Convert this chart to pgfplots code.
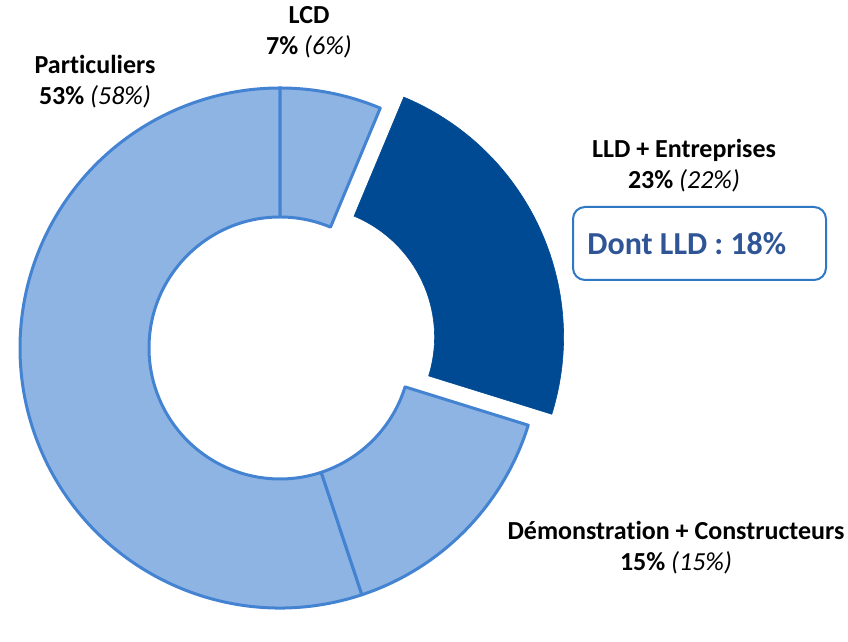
\documentclass[border=0pt]{standalone}
\usepackage{pgfplots}
\pgfplotsset{compat=1.18}
\usepackage{pgfplotstable}
\usepackage{fontspec}
\setmainfont{Carlito}[Ligatures={NoCommon}]
\definecolor{lightfill}{HTML}{8EB4E3}
\definecolor{edgeblue}{HTML}{4383D2}
\definecolor{darkfill}{HTML}{004A93}
\definecolor{boxedge}{HTML}{2E78C4}
\definecolor{boxtext}{HTML}{2F5597}

% share of the ring taken by each segment (percent, clockwise from the top)
\pgfplotstableread{
name  value
LCD   6.3
LLD   23.5
Demo  15.1
Part  55.1
}\sharetable

\newcommand{\Rout}{260}
\newcommand{\Rin}{131}
% #1 style, #2 start angle, #3 end angle, #4/#5 offset (explode)
\newcommand{\donutwedge}[5]{%
  \filldraw[#1]
    (axis cs:{#4+\Rin*cos(#2)},{#5+\Rin*sin(#2)})
    -- (axis cs:{#4+\Rout*cos(#2)},{#5+\Rout*sin(#2)})
    arc[start angle=#2, end angle=#3, radius=\Rout*0.5pt]
    -- (axis cs:{#4+\Rin*cos(#3)},{#5+\Rin*sin(#3)})
    arc[start angle=#3, end angle=#2, radius=\Rin*0.5pt]
    -- cycle;}

\begin{document}
\begin{tikzpicture}
\pgfplotstablegetelem{0}{value}\of\sharetable \let\vA\pgfplotsretval
\pgfplotstablegetelem{1}{value}\of\sharetable \let\vB\pgfplotsretval
\pgfplotstablegetelem{2}{value}\of\sharetable \let\vC\pgfplotsretval
\pgfplotstablegetelem{3}{value}\of\sharetable \let\vD\pgfplotsretval
\pgfmathsetmacro\aA{90}
\pgfmathsetmacro\aB{\aA-3.6*\vA}
\pgfmathsetmacro\aC{\aB-3.6*\vB}
\pgfmathsetmacro\aD{\aC-3.6*\vC}
\pgfmathsetmacro\aE{\aD-3.6*\vD}
\pgfmathsetmacro\mid{(\aB+\aC)/2}
\pgfmathsetmacro\ex{26*cos(\mid)}
\pgfmathsetmacro\ey{26*sin(\mid)}
\begin{axis}[
    hide axis,
    x=0.5pt, y=0.5pt,
    xmin=-280, xmax=568,
    ymin=-262, ymax=348,
    clip=false,
]
\path (axis cs:-280,-262) rectangle (axis cs:568,348);
\donutwedge{fill=lightfill, draw=edgeblue, line width=1.5pt, line join=round}{\aD}{\aE}{0}{0}
\donutwedge{fill=lightfill, draw=edgeblue, line width=1.5pt, line join=round}{\aA}{\aB}{0}{0}
\donutwedge{fill=lightfill, draw=edgeblue, line width=1.5pt, line join=round}{\aC}{\aD}{0}{0}
\donutwedge{fill=darkfill, draw=darkfill, line width=0.3pt}{\aB}{\aC}{\ex}{\ey}

\tikzset{lbl/.style={align=center, inner sep=0pt, font=\fontsize{13}{15.5}\selectfont}}
\node[lbl] at (axis cs:29,316) {\textbf{LCD}\\\textbf{7\%} \textit{(6\%)}};
\node[lbl] at (axis cs:-185,266) {\textbf{Particuliers}\\\textbf{53\%} \textit{(58\%)}};
\node[lbl] at (axis cs:404,182) {\textbf{LLD + Entreprises}\\\textbf{23\%} \textit{(22\%)}};
\node[lbl] at (axis cs:396,-200) {\textbf{Démonstration + Constructeurs}\\\textbf{15\%} \textit{(15\%)}};

\draw[boxedge, line width=1pt, rounded corners=6pt] (axis cs:293,141) rectangle (axis cs:546,68);
\node[anchor=west, text=boxtext, font=\fontsize{16}{19}\selectfont\bfseries, inner sep=0pt] at (axis cs:307,104) {Dont LLD : 18\%};
\end{axis}
\end{tikzpicture}
\end{document}
